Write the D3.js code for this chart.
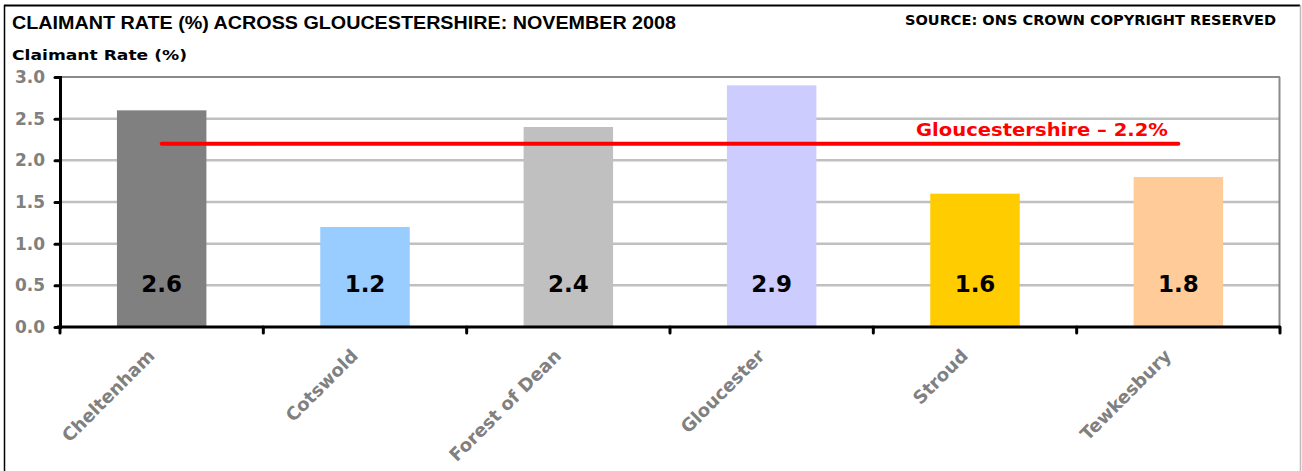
<!DOCTYPE html>
<html>
<head>
<meta charset="utf-8">
<script src="https://cdn.jsdelivr.net/npm/d3@7"></script>
<style>
  body { margin: 0; background: #fff; }
  svg text { font-family: "DejaVu Sans", Verdana, sans-serif; font-weight: bold; }
</style>
</head>
<body>
<svg id="chart" width="1302" height="471"></svg>
<script>
// chart data
const districts = ["Cheltenham", "Cotswold", "Forest of Dean", "Gloucester", "Stroud", "Tewkesbury"];
const rates = [2.6, 1.2, 2.4, 2.9, 1.6, 1.8];
const barColours = ["#808080", "#99ccff", "#c0c0c0", "#ccccff", "#ffcc00", "#ffcc99"];
const countyRate = 2.2;
const yTicks = [0, 0.5, 1, 1.5, 2, 2.5, 3];

const svg = d3.select("#chart");
const W = 1302, H = 471;
const m = {left: 60, right: 1280, top: 77, bottom: 327};

// outer frame
svg.append("line").attr("x1", 4.5).attr("x2", 4.5).attr("y1", 5).attr("y2", H)
  .attr("stroke", "#000").attr("stroke-width", 1.5);
svg.append("line").attr("x1", 4).attr("x2", 1300).attr("y1", 5.5).attr("y2", 5.5)
  .attr("stroke", "#000").attr("stroke-width", 2);
svg.append("line").attr("x1", 1300.5).attr("x2", 1300.5).attr("y1", 5).attr("y2", H)
  .attr("stroke", "#bbb").attr("stroke-width", 1.5);

// titles
svg.append("text").attr("x", 12).attr("y", 29).attr("font-size", 17.5)
  .style("font-family", "'Liberation Sans Narrow', 'Liberation Sans', Arial, sans-serif")
  .attr("textLength", 664).attr("lengthAdjust", "spacingAndGlyphs")
  .text("CLAIMANT RATE (%) ACROSS GLOUCESTERSHIRE: NOVEMBER 2008");
svg.append("text").attr("x", 905).attr("y", 25).attr("font-size", 13.5)
  .attr("textLength", 371).attr("lengthAdjust", "spacingAndGlyphs")
  .text("SOURCE: ONS CROWN COPYRIGHT RESERVED");
svg.append("text").attr("x", 12).attr("y", 60).attr("font-size", 14.5)
  .attr("textLength", 175).attr("lengthAdjust", "spacingAndGlyphs")
  .text("Claimant Rate (%)");

const x = d3.scaleBand().domain(districts).range([m.left, m.right]).paddingInner(0.56).paddingOuter(0.28);
const y = d3.scaleLinear().domain([0, 3]).range([m.bottom, m.top]);

// gridlines
svg.append("g").selectAll("line").data(yTicks.filter(d => d > 0)).join("line")
  .attr("x1", m.left).attr("x2", m.right)
  .attr("y1", d => y(d)).attr("y2", d => y(d))
  .attr("stroke", d => d === 3 ? "#8a8a8a" : "#c0c0c0")
  .attr("stroke-width", d => d === 3 ? 2 : 2.5);
// right border of plot
svg.append("line").attr("x1", m.right - 0.5).attr("x2", m.right - 0.5)
  .attr("y1", m.top).attr("y2", m.bottom).attr("stroke", "#8a8a8a").attr("stroke-width", 2);

// bars
svg.append("g").selectAll("rect").data(districts).join("rect")
  .attr("x", d => x(d)).attr("width", x.bandwidth())
  .attr("y", (d, i) => y(rates[i])).attr("height", (d, i) => y(0) - y(rates[i]))
  .attr("fill", (d, i) => barColours[i]);

// value labels
svg.append("g").selectAll("text").data(districts).join("text")
  .attr("x", d => x(d) + x.bandwidth() / 2).attr("y", 292)
  .attr("text-anchor", "middle").attr("font-size", 23).attr("fill", "#000")
  .text((d, i) => rates[i].toFixed(1));

// county average line
svg.append("line")
  .attr("x1", x(districts[0]) + x.bandwidth() / 2)
  .attr("x2", x(districts[districts.length - 1]) + x.bandwidth() / 2)
  .attr("y1", y(countyRate)).attr("y2", y(countyRate))
  .attr("stroke", "#ff0000").attr("stroke-width", 4).attr("stroke-linecap", "round");
svg.append("text").attr("x", 916).attr("y", 136).attr("font-size", 17).attr("fill", "#ff0000")
  .attr("textLength", 252).attr("lengthAdjust", "spacingAndGlyphs")
  .text("Gloucestershire \u2013 " + countyRate + "%");

// y axis
const yAxis = svg.append("g").attr("transform", `translate(${m.left},0)`)
  .call(d3.axisLeft(y).tickValues(yTicks).tickFormat(d3.format(".1f")).tickSize(5).tickPadding(10));
yAxis.select(".domain").attr("stroke", "#000").attr("stroke-width", 3);
yAxis.selectAll(".tick line").attr("stroke", "#000").attr("stroke-width", 3).attr("stroke-linecap", "round");
yAxis.selectAll(".tick text").attr("fill", "#808080").attr("font-size", 17)
  .style("font-family", "'DejaVu Sans', Verdana, sans-serif").style("font-weight", "bold");

// x axis: baseline and boundary ticks
const bounds = d3.range(districts.length + 1).map(i => m.left + i * (m.right - m.left) / districts.length);
svg.append("line").attr("x1", m.left - 3).attr("x2", m.right)
  .attr("y1", y(0)).attr("y2", y(0)).attr("stroke", "#000").attr("stroke-width", 3);
svg.append("g").selectAll("line").data(bounds).join("line")
  .attr("x1", d => d).attr("x2", d => d).attr("y1", y(0)).attr("y2", y(0) + 6)
  .attr("stroke", "#000").attr("stroke-width", 3).attr("stroke-linecap", "round");

svg.append("g").selectAll("text").data(districts).join("text")
  .attr("transform", d => `translate(${x(d) + x.bandwidth() / 2 - 6},${y(0) + 30}) rotate(-45)`)
  .attr("text-anchor", "end").attr("font-size", 18).attr("fill", "#808080")
  .text(d => d);
</script>
</body>
</html>
